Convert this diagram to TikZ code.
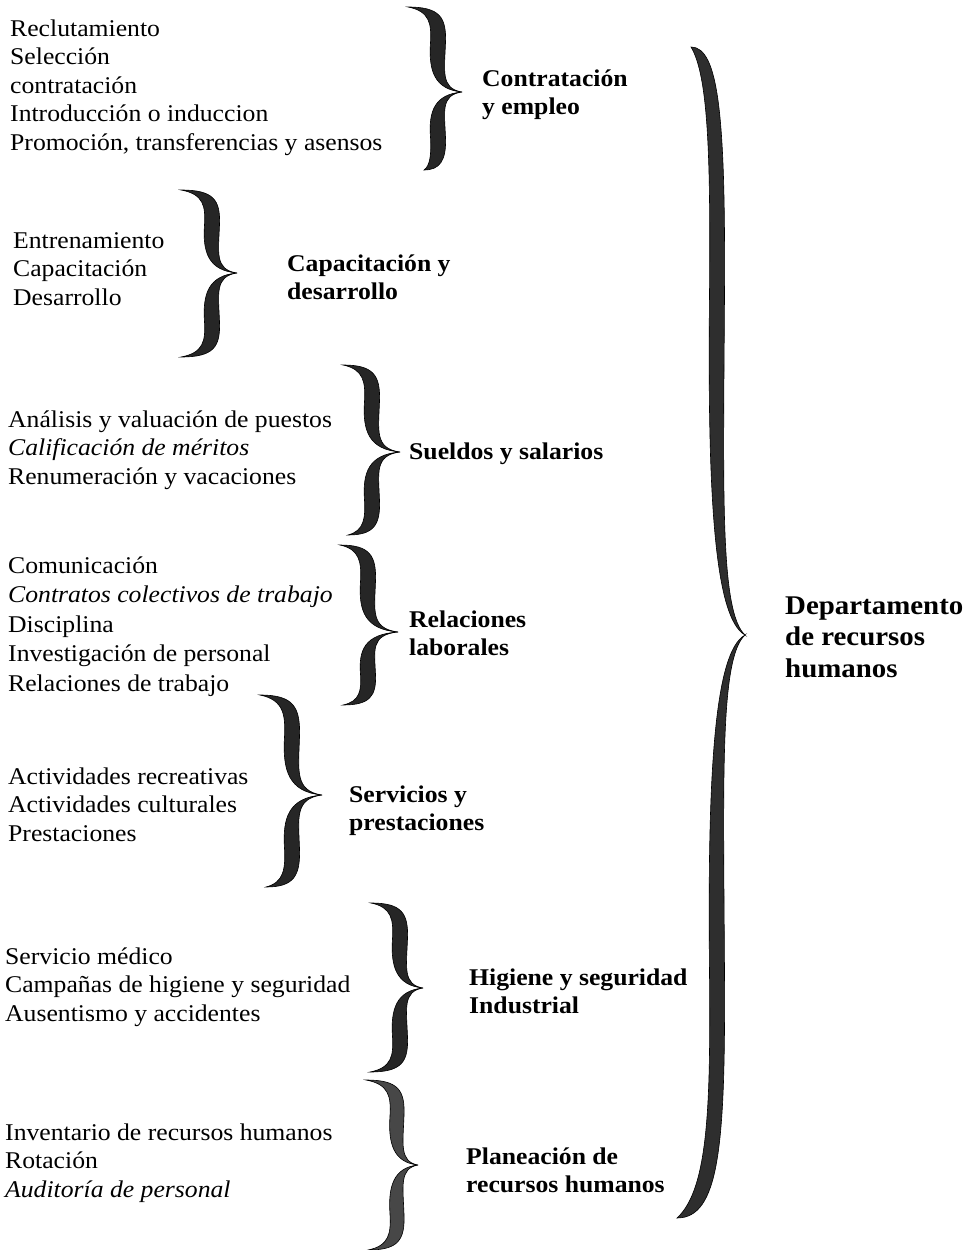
\documentclass[tikz,border=0pt]{standalone}
\usepackage{fontspec}
\setmainfont{Liberation Serif}[FakeStretch=1.07]
\begin{document}
% One arm of a calligraphic brace: from its free end (#1,#2) to the tip (#4,#5),
% running along x = #3 with a slight S-bend, half thickness #6.
\newcommand{\bracearm}[6]{%
  \fill[bracefill]
    (#1,#2) .. controls ({#3+0.5*#6},{#2}) and ({#3+#6+3},{#2+0.12*(#5-#2)}) ..
    ({#3+#6+2},{#2+0.42*(#5-#2)}) .. controls ({#3+#6+1},{#2+0.75*(#5-#2)}) and ({#3+0.6*#6},{#5-0.04*(#5-#2)}) ..
    (#4,#5) .. controls ({#3-0.2*#6},{#5-0.03*(#5-#2)}) and ({#3-#6},{#2+0.75*(#5-#2)}) ..
    ({#3-#6+2},{#2+0.42*(#5-#2)}) .. controls ({#3-#6+3},{#2+0.2*(#5-#2)}) and ({#3-0.8*#6},{#2+0.05*(#5-#2)}) ..
    (#1,#2) -- cycle;}
% Whole brace: top end x,y; arm x; tip x,y; bottom end x,y; half thickness
\newcommand{\curlybrace}[8]{%
  \bracearm{#1}{#2}{#3}{#4}{#5}{#8}%
  \bracearm{#6}{#7}{#3}{#4}{#5}{#8}}
\begin{tikzpicture}[x=1pt,y=-1pt,
  bracefill/.style={fill=black!85,draw=black,line width=0.6pt},
  item/.style={anchor=base west,inner sep=0pt,align=left,font=\fontsize{24}{28.4}\selectfont},
  area/.style={anchor=base west,inner sep=0pt,align=left,font=\fontsize{24}{28}\selectfont\bfseries},
  dept/.style={anchor=base west,inner sep=0pt,align=left,font=\fontsize{27}{31.5}\selectfont\bfseries}]
\useasboundingbox[fill=white] (0,0) rectangle (977,1250);

% lists of functions (node placed at the baseline of the last line)
\node[item] (g1) at (10,150) {Reclutamiento\\Selección\\contratación\\Introducción o induccion\\Promoción, transferencias y asensos};
\node[item] (g2) at (13,305) {Entrenamiento\\Capacitación\\Desarrollo};
\node[item] (g3) at (8,484) {Análisis y valuación de puestos\\\textit{Calificación de méritos}\\Renumeración y vacaciones};
\node[item,font=\fontsize{24}{29.5}\selectfont] (g4) at (8,691) {Comunicación\\\textit{Contratos colectivos de trabajo}\\Disciplina\\Investigación de personal\\Relaciones de trabajo};
\node[item] (g5) at (8,841) {Actividades recreativas\\Actividades culturales\\Prestaciones};
\node[item] (g6) at (5,1021) {Servicio médico\\Campañas de higiene y seguridad\\Ausentismo y accidentes};
\node[item] (g7) at (5,1197) {Inventario de recursos humanos\\Rotación\\\textit{Auditoría de personal}};

% area names
\node[area] (a1) at (482,114) {Contratación\\y empleo};
\node[area] (a2) at (287,299) {Capacitación y\\desarrollo};
\node[area] (a3) at (409,459) {Sueldos y salarios};
\node[area] (a4) at (409,655) {Relaciones\\laborales};
\node[area] (a5) at (349,830) {Servicios y\\prestaciones};
\node[area] (a6) at (469,1013) {Higiene y seguridad\\Industrial};
\node[area] (a7) at (466,1192) {Planeación de\\recursos humanos};
\node[dept] (d) at (785,677) {Departamento\\de recursos\\humanos};

% braces
\curlybrace{408}{7}{436}{462}{92}{424}{170}{7.5}
\curlybrace{181}{190}{210}{237}{273}{181}{357}{7.5}
\curlybrace{343}{365}{370}{400}{452}{348}{535}{7.5}
\curlybrace{340}{545}{366}{398}{632}{343}{705}{7.5}
\curlybrace{260}{695}{290}{322}{795}{266}{887}{7.5}
\curlybrace{371}{903}{398}{423}{988}{370}{1072}{7.5}
\begin{scope}[bracefill/.append style={fill=black!72}]
\curlybrace{366}{1080}{395}{418}{1165}{368}{1250}{7}
\end{scope}
\begin{scope}[bracefill/.append style={fill=black!82}]
\curlybrace{691}{47}{715}{745}{635}{677}{1218}{7.5}
\end{scope}
\end{tikzpicture}
\end{document}
